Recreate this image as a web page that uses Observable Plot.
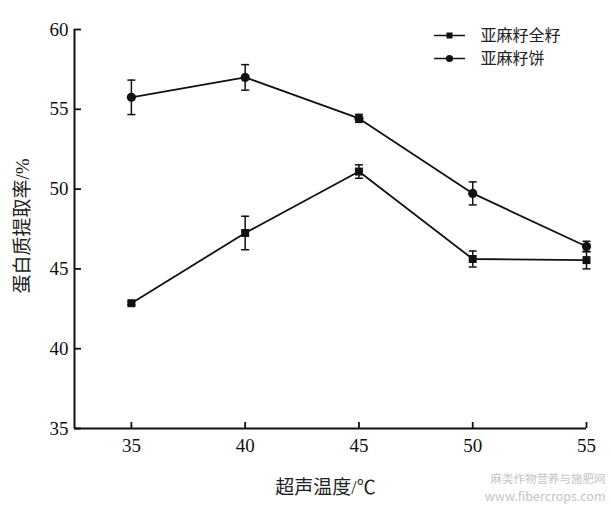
<!DOCTYPE html>
<html><head><meta charset="utf-8">
<script src="https://cdn.jsdelivr.net/npm/d3@7"></script>
<script src="https://cdn.jsdelivr.net/npm/@observablehq/plot@0.6"></script>
<style>body{margin:0;background:#fff}</style>
</head><body><div id="chart"></div>
<script>
const temps = [35, 40, 45, 50, 55];
const seriesNames = ["亚麻籽全籽", "亚麻籽饼"];
const wholeMean = [42.85, 47.25, 51.1, 45.62, 45.55];
const wholeErr = [0.1, 1.05, 0.42, 0.5, 0.55];
const cakeMean = [55.75, 57.0, 54.43, 49.73, 46.4];
const cakeErr = [1.08, 0.8, 0.25, 0.72, 0.33];
const xTicks = [35, 40, 45, 50, 55];
const yTicks = [35, 40, 45, 50, 55, 60];
const xDomain = [32.5, 55];
const yDomain = [35, 60];
const xLabel = "超声温度/℃";
const yLabel = "蛋白质提取率/%";
const watermark = ["麻类作物营养与施肥网", "www.fibercrops.com"];

const W = 611, H = 507, ML = 74, MR = 25, MT = 29, MB = 79;
const rows = [];
temps.forEach((t, i) => {
  rows.push({s: seriesNames[0], x: t, m: wholeMean[i], e: wholeErr[i]});
  rows.push({s: seriesNames[1], x: t, m: cakeMean[i], e: cakeErr[i]});
});
const hline = w => ({draw(ctx) { ctx.moveTo(-w / 2, 0); ctx.lineTo(w / 2, 0); }});
const symbolOf = {[seriesNames[0]]: "square", [seriesNames[1]]: "circle"};
const font = "'Liberation Serif', 'Noto Sans CJK SC', serif";

const marks = [
  Plot.ruleX([xDomain[0]], {strokeWidth: 2}),
  Plot.ruleY([yDomain[0]], {strokeWidth: 2}),
  Plot.tickX(xTicks, {x: d => d, insetTop: (H - MT - MB) - 6, stroke: "#111", strokeWidth: 1.8}),
  Plot.tickY(yTicks, {y: d => d, insetRight: (W - ML - MR) - 7, stroke: "#111", strokeWidth: 1.8}),
  Plot.axisX({ticks: xTicks, tickSize: 0, tickPadding: 10, fontSize: 19, label: null}),
  Plot.axisY({ticks: yTicks, tickSize: 0, tickPadding: 6, fontSize: 19, label: null}),
  Plot.text([xLabel], {text: d => d, frameAnchor: "bottom", dx: -5, dy: 59, textAnchor: "middle", lineAnchor: "middle", fontSize: 19, fill: "#222"}),
  Plot.text([yLabel], {text: d => d, frameAnchor: "left", rotate: -90, dx: -52, dy: -3, textAnchor: "middle", lineAnchor: "middle", fontSize: 19, fill: "#222"}),
  Plot.line(rows, {x: "x", y: "m", z: "s", stroke: "#111", strokeWidth: 1.8}),
  Plot.ruleX(rows, {x: "x", y1: d => d.m - d.e, y2: d => d.m + d.e, stroke: "#111", strokeWidth: 1.5}),
  Plot.dot(rows, {x: "x", y: d => d.m - d.e, symbol: hline(8), stroke: "#111", strokeWidth: 1.5}),
  Plot.dot(rows, {x: "x", y: d => d.m + d.e, symbol: hline(8), stroke: "#111", strokeWidth: 1.5}),
  Plot.dot(rows.filter(d => d.s === seriesNames[0]), {x: "x", y: "m", symbol: "square", r: 4.5, fill: "#111", stroke: "none"}),
  Plot.dot(rows.filter(d => d.s === seriesNames[1]), {x: "x", y: "m", symbol: "circle", r: 4.6, fill: "#111", stroke: "none"})
];
seriesNames.forEach((name, i) => {
  marks.push(Plot.dot([name], {frameAnchor: "top-left", dx: 375, dy: 6 + i * 23, symbol: hline(31), stroke: "#111", strokeWidth: 1.5}));
  marks.push(Plot.dot([name], {frameAnchor: "top-left", dx: 375, dy: 6 + i * 23, symbol: symbolOf[name], r: symbolOf[name] === "square" ? 3.4 : 3.6, fill: "#111", stroke: "none"}));
  marks.push(Plot.text([name], {text: d => d, frameAnchor: "top-left", dx: 406, dy: 6 + i * 23, textAnchor: "start", lineAnchor: "middle", fontSize: 16, fill: "#222"}));
});
watermark.forEach((w, i) => {
  marks.push(Plot.text([w], {text: d => d, frameAnchor: "bottom-right", dx: 19, dy: 51 + i * 17, textAnchor: "end", lineAnchor: "middle", fontSize: i === 0 ? 11.5 : 12.5, fill: "#c4c4c4", fontFamily: "'Noto Sans CJK SC', 'DejaVu Sans', sans-serif"}));
});

const chart = Plot.plot({
  width: W,
  height: H,
  marginLeft: ML,
  marginRight: MR,
  marginTop: MT,
  marginBottom: MB,
  style: {fontFamily: font, color: "#111", background: "#fff", overflow: "visible"},
  x: {domain: xDomain},
  y: {domain: yDomain},
  marks
});
document.getElementById("chart").appendChild(chart);
</script>
</body></html>
